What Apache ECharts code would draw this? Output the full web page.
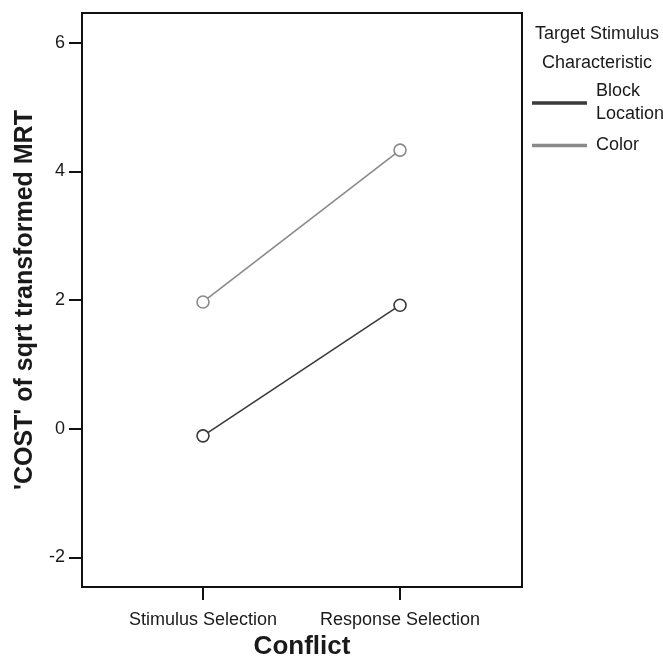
<!DOCTYPE html>
<html>
<head>
<meta charset="utf-8">
<script src="https://cdn.jsdelivr.net/npm/echarts@6/dist/echarts.min.js"></script>
<style>
  html, body { margin: 0; padding: 0; background: #ffffff; }
  #chart { width: 663px; height: 665px; }
</style>
</head>
<body>
<div id="chart"></div>
<script>
// Conflict conditions along the x axis (positions 0 and 1)
const conflictLevels = ['Stimulus Selection', 'Response Selection'];
// Mean 'COST' of sqrt-transformed MRT per target stimulus characteristic
const blockLocation = [-0.11, 1.92];
const colorCost = [1.97, 4.33];
const seriesNames = ['Block Location', 'Color'];
const yTicks = [-2, 0, 2, 4, 6];

const FONT = '"Liberation Sans", Arial, sans-serif';
const chart = echarts.init(document.getElementById('chart'), null, { renderer: 'canvas' });

const toPoints = vals => vals.map((v, i) => [i, v]);

function lineSeries(name, vals, color) {
  return {
    name: name,
    type: 'line',
    data: toPoints(vals),
    showSymbol: true,
    symbol: 'circle',
    symbolSize: 12,
    z: 5,
    color: color,
    lineStyle: { color: color, width: 1.6 },
    itemStyle: { color: '#ffffff', borderColor: color, borderWidth: 1.6 }
  };
}

chart.setOption({
  backgroundColor: '#ffffff',
  animation: false,
  title: {
    text: 'Target Stimulus\nCharacteristic',
    left: 592,
    top: 15,
    textAlign: 'center',
    textStyle: { fontFamily: FONT, fontSize: 18, fontWeight: 'normal', color: '#1a1a1a', lineHeight: 29 }
  },
  legend: {
    orient: 'vertical',
    left: 527,
    top: 75,
    itemWidth: 53,
    itemHeight: 1.5,
    itemGap: 8,
    icon: 'rect',
    data: seriesNames,
    formatter: name => name.replace(' ', '\n'),
    textStyle: { fontFamily: FONT, fontSize: 18, color: '#1a1a1a', lineHeight: 23, padding: [0, 0, 0, 5] }
  },
  grid: {
    left: 82, right: 141, top: 13, bottom: 72,
    show: true, borderColor: '#111', borderWidth: 2, backgroundColor: 'transparent'
  },
  xAxis: {
    type: 'value',
    min: -0.614,
    max: 1.619,
    name: 'Conflict',
    nameLocation: 'middle',
    nameGap: 46,
    nameTextStyle: { fontFamily: FONT, fontSize: 26, fontWeight: 'bold', color: '#1a1a1a' },
    axisLine: { show: true, onZero: false, lineStyle: { color: '#111', width: 2 } },
    axisTick: { show: true, length: 13, lineStyle: { color: '#111', width: 2 }, customValues: [0, 1] },
    axisLabel: {
      customValues: [0, 1],
      margin: 24,
      fontFamily: FONT, fontSize: 18, color: '#1a1a1a',
      formatter: v => conflictLevels[Math.round(v)]
    },
    splitLine: { show: false }
  },
  yAxis: {
    type: 'value',
    min: -2.46,
    max: 6.46,
    name: "'COST' of sqrt transformed MRT",
    nameLocation: 'middle',
    nameGap: 42,
    nameTextStyle: { fontFamily: FONT, fontSize: 25, fontWeight: 'bold', color: '#1a1a1a' },
    axisLine: { show: true, onZero: false, lineStyle: { color: '#111', width: 2 } },
    axisTick: { show: true, length: 13, lineStyle: { color: '#111', width: 2 }, customValues: yTicks },
    axisLabel: {
      customValues: yTicks,
      margin: 17,
      fontFamily: FONT, fontSize: 18, color: '#1a1a1a'
    },
    splitLine: { show: false }
  },
  series: [
    lineSeries(seriesNames[0], blockLocation, '#3a3a3a'),
    lineSeries(seriesNames[1], colorCost, '#8a8a8a')
  ]
});
</script>
</body>
</html>
